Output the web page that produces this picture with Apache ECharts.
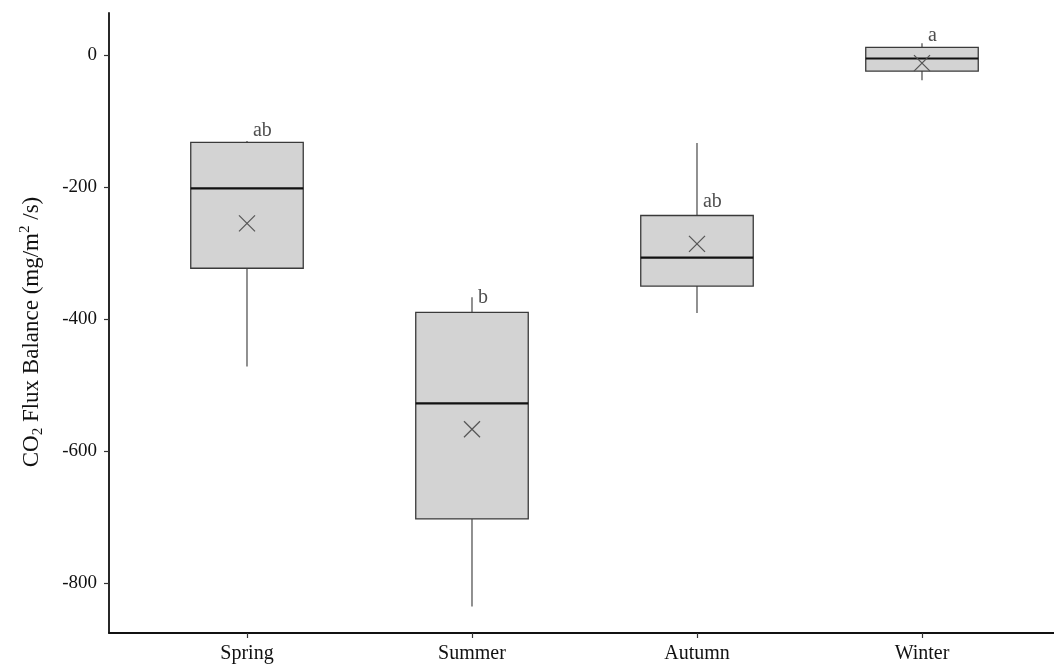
<!DOCTYPE html>
<html>
<head>
<meta charset="utf-8">
<script src="https://cdn.jsdelivr.net/npm/echarts@6/dist/echarts.min.js"></script>
<style>html,body{margin:0;padding:0;background:#fff;}#c{width:1054px;height:669px;}</style>
</head>
<body>
<div id="c"></div>
<script>
const categories = ['Spring', 'Summer', 'Autumn', 'Winter'];
const lowWhisker = [-472, -836, -391, -38];
const q1 = [-323, -703, -350, -24];
const median = [-202, -528, -307, -5];
const q3 = [-132, -390, -243, 12];
const highWhisker = [-130, -367, -133, 18];
const means = [-255, -567, -286, -12];
const letters = ['ab', 'b', 'ab', 'a'];
const letterY = [-114, -368, -222, 30];
const yTicks = [-800, -600, -400, -200, 0];
const xTicks = [1, 2, 3, 4];

const FONT = "'Liberation Serif', 'Times New Roman', serif";

const boxData = categories.map((c, i) => [i + 1, lowWhisker[i], q1[i], median[i], q3[i], highWhisker[i], means[i]]);
const letterData = categories.map((c, i) => [i + 1, letterY[i], letters[i]]);

function renderBox(params, api) {
  const x = api.value(0);
  const lo = api.coord([x, api.value(1)]);
  const b1 = api.coord([x, api.value(2)]);
  const md = api.coord([x, api.value(3)]);
  const b3 = api.coord([x, api.value(4)]);
  const hi = api.coord([x, api.value(5)]);
  const mn = api.coord([x, api.value(6)]);
  const w = api.size([0.5, 0])[0];
  const cx = lo[0];
  const left = cx - w / 2;
  const c = 8;
  const wStyle = { stroke: '#555', lineWidth: 1.3 };
  return {
    type: 'group',
    children: [
      { type: 'line', shape: { x1: cx, y1: hi[1], x2: cx, y2: b3[1] }, style: wStyle },
      { type: 'line', shape: { x1: cx, y1: b1[1], x2: cx, y2: lo[1] }, style: wStyle },
      { type: 'rect', shape: { x: left, y: b3[1], width: w, height: b1[1] - b3[1] },
        style: { fill: '#d3d3d3', stroke: '#3a3a3a', lineWidth: 1.3 } },
      { type: 'line', shape: { x1: left, y1: md[1], x2: left + w, y2: md[1] },
        style: { stroke: '#111', lineWidth: 2.2 } },
      { type: 'line', shape: { x1: cx - c, y1: mn[1] - c, x2: cx + c, y2: mn[1] + c },
        style: { stroke: '#555', lineWidth: 1.3 } },
      { type: 'line', shape: { x1: cx - c, y1: mn[1] + c, x2: cx + c, y2: mn[1] - c },
        style: { stroke: '#555', lineWidth: 1.3 } }
    ]
  };
}

const chart = echarts.init(document.getElementById('c'), null, { renderer: 'canvas' });
chart.setOption({
  backgroundColor: '#fff',
  animation: false,
  grid: { left: 109, right: 0, top: 13, bottom: 36, containLabel: false },
  xAxis: {
    type: 'value', min: 0.3867, max: 4.5867,
    splitLine: { show: false },
    axisLine: { show: true, onZero: false, lineStyle: { color: '#111', width: 1.8 } },
    axisTick: { show: true, length: 5, customValues: xTicks, lineStyle: { color: '#333', width: 1.2 } },
    axisLabel: {
      customValues: xTicks, margin: 11,
      formatter: v => categories[Math.round(v) - 1] || '',
      fontFamily: FONT, fontSize: 20, color: '#111'
    }
  },
  yAxis: {
    type: 'value', min: -876, max: 64,
    splitLine: { show: false },
    axisLine: { show: true, onZero: false, lineStyle: { color: '#111', width: 1.8 } },
    axisTick: { show: true, length: 5, customValues: yTicks, lineStyle: { color: '#333', width: 1.2 } },
    axisLabel: { customValues: yTicks, margin: 12, fontFamily: FONT, fontSize: 19, color: '#111' },
    name: '{n|CO}{sub|2}{n| Flux Balance (mg/m}{sup|2}{n| /s)}',
    nameLocation: 'middle', nameGap: 63, nameRotate: 90,
    nameTextStyle: {
      fontFamily: FONT, fontSize: 23, color: '#111',
      padding: [0, 18, 0, 0],
      rich: {
        n: { fontFamily: FONT, fontSize: 23, color: '#111', lineHeight: 28, verticalAlign: 'middle' },
        sub: { fontFamily: FONT, fontSize: 15, color: '#111', lineHeight: 28, verticalAlign: 'bottom' },
        sup: { fontFamily: FONT, fontSize: 15, color: '#111', lineHeight: 28, verticalAlign: 'top' }
      }
    }
  },
  series: [
    {
      type: 'custom',
      renderItem: renderBox,
      data: boxData,
      encode: { x: 0, y: [1, 2, 3, 4, 5, 6] },
      z: 2
    },
    {
      type: 'scatter',
      data: letterData,
      symbolSize: 0,
      z: 3,
      label: {
        show: true, position: 'right', distance: 6,
        formatter: p => p.data[2],
        fontFamily: FONT, fontSize: 20, color: '#222'
      }
    }
  ]
});
</script>
</body>
</html>
